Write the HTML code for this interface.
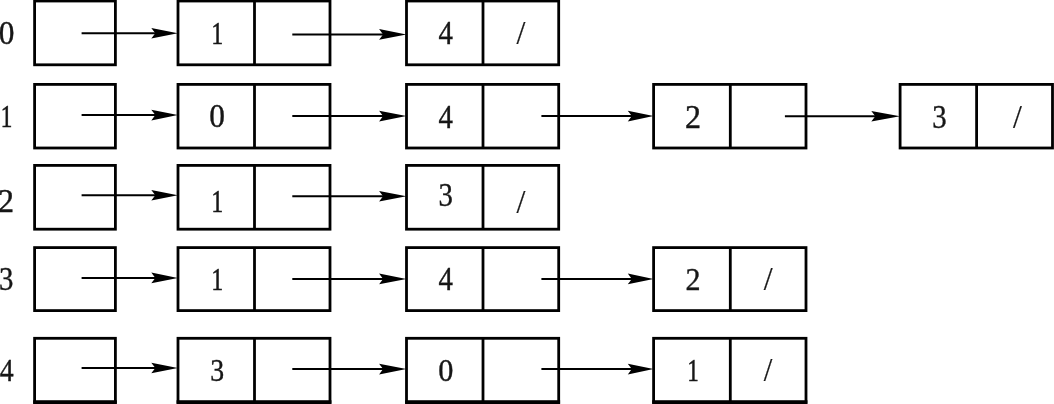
<!DOCTYPE html>
<html><head><meta charset="utf-8"><title>Adjacency list</title>
<style>
html,body{margin:0;padding:0;background:#fff;}
svg{display:block;will-change:transform;}
text{font-family:"Liberation Serif",serif;font-size:32px;fill:#161616;}
text{stroke:#161616;stroke-width:0.4px;}
.one{stroke-width:0.7px;}
.s{stroke-width:0.2px;}
.b{fill:none;stroke:#000;stroke-width:2.8;}
.k{stroke:#000;stroke-width:4;}
.l{stroke:#000;stroke-width:2.0;fill:none;}
.a{fill:#000;stroke:none;}
</style></head><body>
<svg width="1054" height="404" viewBox="0 0 1054 404">
<rect width="1054" height="404" fill="#fff"/>
<g>
<text transform="translate(6.7 44.0) scale(0.98 1.02)" text-anchor="middle">0</text>
<rect class="b" x="34.6" y="1.0" width="80.8" height="63.8"/>
<line class="l" x1="81.6" y1="33.2" x2="165.8" y2="33.2"/>
<polygon class="a" points="151.3,27.9 177.8,33.2 151.3,38.5 155.3,33.2"/>
<rect class="b" x="178.0" y="1.0" width="152.0" height="63.8"/>
<line class="b" x1="254.5" y1="1.0" x2="254.5" y2="64.8"/>
<text class="one" transform="translate(217.2 44.0) scale(0.72 1.0)" text-anchor="middle">1</text>
<line class="l" x1="292.3" y1="34.4" x2="394.4" y2="34.4"/>
<polygon class="a" points="379.1,29.1 406.4,34.4 379.1,39.7 383.1,34.4"/>
<rect class="b" x="406.5" y="1.0" width="152.2" height="63.8"/>
<line class="b" x1="483.0" y1="1.0" x2="483.0" y2="64.8"/>
<text transform="translate(445.8 44.0) scale(0.9 1.02)" text-anchor="middle">4</text>
<text class="s" transform="translate(520.9 44.0) scale(1.0 1.07)" text-anchor="middle">/</text>
</g>
<g>
<text class="one" transform="translate(6.5 127.4) scale(0.72 1.0)" text-anchor="middle">1</text>
<rect class="b" x="34.6" y="84.4" width="80.8" height="63.6"/>
<line class="l" x1="81.6" y1="115.1" x2="165.8" y2="115.1"/>
<polygon class="a" points="151.3,109.8 177.8,115.1 151.3,120.4 155.3,115.1"/>
<rect class="b" x="178.0" y="84.4" width="152.0" height="63.6"/>
<line class="b" x1="254.5" y1="84.4" x2="254.5" y2="148.0"/>
<text transform="translate(217.2 127.3) scale(0.98 1.02)" text-anchor="middle">0</text>
<line class="l" x1="292.3" y1="116.1" x2="394.4" y2="116.1"/>
<polygon class="a" points="379.1,110.8 406.4,116.1 379.1,121.4 383.1,116.1"/>
<rect class="b" x="406.5" y="84.4" width="152.2" height="63.6"/>
<line class="b" x1="483.0" y1="84.4" x2="483.0" y2="148.0"/>
<text transform="translate(445.8 127.5) scale(0.9 1.02)" text-anchor="middle">4</text>
<line class="l" x1="541.4" y1="116.1" x2="641.5" y2="116.1"/>
<polygon class="a" points="627.8,110.8 653.5,116.1 627.8,121.4 631.8,116.1"/>
<rect class="b" x="653.6" y="84.4" width="152.4" height="63.6"/>
<line class="b" x1="730.3" y1="84.4" x2="730.3" y2="148.0"/>
<text transform="translate(693.0 127.5) scale(1.0 1.02)" text-anchor="middle">2</text>
<line class="l" x1="784.9" y1="116.2" x2="888.0" y2="116.2"/>
<polygon class="a" points="871.3,110.9 900.0,116.2 871.3,121.5 875.3,116.2"/>
<rect class="b" x="900.1" y="84.4" width="152.4" height="63.6"/>
<line class="b" x1="976.6" y1="84.4" x2="976.6" y2="148.0"/>
<text transform="translate(939.4 127.5) scale(0.9 1.02)" text-anchor="middle">3</text>
<text class="s" transform="translate(1017.4 127.5) scale(1.0 1.07)" text-anchor="middle">/</text>
</g>
<g>
<text transform="translate(6.1 211.9) scale(1.0 1.02)" text-anchor="middle">2</text>
<rect class="b" x="34.6" y="165.4" width="80.8" height="63.8"/>
<line class="l" x1="81.6" y1="195.2" x2="165.8" y2="195.2"/>
<polygon class="a" points="151.3,189.9 177.8,195.2 151.3,200.5 155.3,195.2"/>
<rect class="b" x="178.0" y="165.4" width="152.0" height="63.8"/>
<line class="b" x1="254.5" y1="165.4" x2="254.5" y2="229.2"/>
<text class="one" transform="translate(217.2 212.1) scale(0.72 1.0)" text-anchor="middle">1</text>
<line class="l" x1="292.3" y1="196.3" x2="394.4" y2="196.3"/>
<polygon class="a" points="379.1,191.0 406.4,196.3 379.1,201.6 383.1,196.3"/>
<rect class="b" x="406.5" y="165.4" width="152.2" height="63.8"/>
<line class="b" x1="483.0" y1="165.4" x2="483.0" y2="229.2"/>
<text transform="translate(445.8 205.9) scale(0.9 1.02)" text-anchor="middle">3</text>
<text class="s" transform="translate(520.9 213.0) scale(1.0 1.07)" text-anchor="middle">/</text>
</g>
<g>
<text transform="translate(6.3 290.0) scale(0.9 1.02)" text-anchor="middle">3</text>
<rect class="b" x="34.6" y="247.6" width="80.8" height="63.0"/>
<line class="l" x1="81.6" y1="277.9" x2="165.8" y2="277.9"/>
<polygon class="a" points="151.3,272.6 177.8,277.9 151.3,283.2 155.3,277.9"/>
<rect class="b" x="178.0" y="247.6" width="152.0" height="63.0"/>
<line class="b" x1="254.5" y1="247.6" x2="254.5" y2="310.6"/>
<text class="one" transform="translate(217.2 290.1) scale(0.72 1.0)" text-anchor="middle">1</text>
<line class="l" x1="292.3" y1="278.9" x2="394.4" y2="278.9"/>
<polygon class="a" points="379.1,273.6 406.4,278.9 379.1,284.2 383.1,278.9"/>
<rect class="b" x="406.5" y="247.6" width="152.2" height="63.0"/>
<line class="b" x1="483.0" y1="247.6" x2="483.0" y2="310.6"/>
<text transform="translate(445.8 289.8) scale(0.9 1.02)" text-anchor="middle">4</text>
<line class="l" x1="541.4" y1="278.9" x2="641.5" y2="278.9"/>
<polygon class="a" points="627.8,273.6 653.5,278.9 627.8,284.2 631.8,278.9"/>
<rect class="b" x="653.6" y="247.6" width="152.4" height="63.0"/>
<line class="b" x1="730.3" y1="247.6" x2="730.3" y2="310.6"/>
<text transform="translate(693.0 289.8) scale(0.94 0.959)" text-anchor="middle">2</text>
<text class="s" transform="translate(768.1 289.7) scale(1.0 1.07)" text-anchor="middle">/</text>
</g>
<g>
<text transform="translate(6.6 381.0) scale(0.868 0.984)" text-anchor="middle">4</text>
<rect class="b" x="34.6" y="338.3" width="80.8" height="64.0"/>
<line class="l" x1="81.6" y1="368.0" x2="165.8" y2="368.0"/>
<polygon class="a" points="151.3,362.7 177.8,368.0 151.3,373.3 155.3,368.0"/>
<line class="k" x1="33.2" y1="402.2" x2="116.8" y2="402.2"/>
<line class="k" x1="176.6" y1="402.2" x2="331.4" y2="402.2"/>
<line class="k" x1="405.1" y1="402.2" x2="560.1" y2="402.2"/>
<line class="k" x1="652.2" y1="402.2" x2="807.4" y2="402.2"/>
<rect class="b" x="178.0" y="338.3" width="152.0" height="64.0"/>
<line class="b" x1="254.5" y1="338.3" x2="254.5" y2="402.3"/>
<text transform="translate(217.2 380.5) scale(0.868 0.984)" text-anchor="middle">3</text>
<line class="l" x1="292.3" y1="369.1" x2="394.4" y2="369.1"/>
<polygon class="a" points="379.1,363.8 406.4,369.1 379.1,374.4 383.1,369.1"/>
<rect class="b" x="406.5" y="338.3" width="152.2" height="64.0"/>
<line class="b" x1="483.0" y1="338.3" x2="483.0" y2="402.3"/>
<text transform="translate(445.8 380.7) scale(0.946 0.984)" text-anchor="middle">0</text>
<line class="l" x1="541.4" y1="369.1" x2="641.5" y2="369.1"/>
<polygon class="a" points="627.8,363.8 653.5,369.1 627.8,374.4 631.8,369.1"/>
<rect class="b" x="653.6" y="338.3" width="152.4" height="64.0"/>
<line class="b" x1="730.3" y1="338.3" x2="730.3" y2="402.3"/>
<text class="one" transform="translate(693.0 381.1) scale(0.695 0.965)" text-anchor="middle">1</text>
<text class="s" transform="translate(768.1 381.0) scale(0.965 1.033)" text-anchor="middle">/</text>
</g>
</svg>
</body></html>
